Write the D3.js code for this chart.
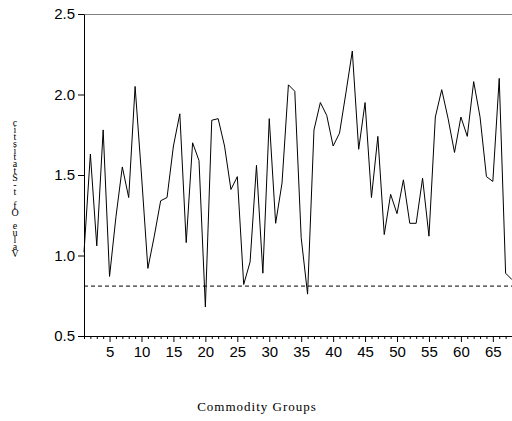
<!DOCTYPE html>
<html>
  <head>
    <script src="https://d3js.org/d3.v7.min.js"></script>
    <style>
      body { margin: 0; background: white; }
      svg { display: block; }
    </style>
  </head>
  <body>
    <script>
      const groups = d3.range(1, 69);
      const values = [1.02, 1.63, 1.06, 1.78, 0.87, 1.24, 1.55, 1.36, 2.05, 1.50,
                      0.92, 1.12, 1.34, 1.36, 1.68, 1.88, 1.08, 1.70, 1.59, 0.68,
                      1.84, 1.85, 1.68, 1.41, 1.49, 0.82, 0.96, 1.56, 0.89, 1.85,
                      1.20, 1.45, 2.06, 2.02, 1.11, 0.76, 1.78, 1.95, 1.87, 1.68,
                      1.76, 2.01, 2.27, 1.66, 1.95, 1.36, 1.74, 1.13, 1.38, 1.26,
                      1.47, 1.20, 1.20, 1.48, 1.12, 1.86, 2.03, 1.85, 1.64, 1.86,
                      1.74, 2.08, 1.86, 1.49, 1.46, 2.10, 0.89, 0.85];
      const critical = 0.81;
      const yTicks = [0.5, 1.0, 1.5, 2.0, 2.5];
      const xTicks = [5, 10, 15, 20, 25, 30, 35, 40, 45, 50, 55, 60, 65];
      const yTitle = 'Value Of t-Statistic';
      const xTitle = 'Commodity Groups';

      const w = 512, h = 421;
      const m = { left: 84, right: 512, top: 14, bottom: 336 };

      const svg = d3.select('body').append('svg')
        .attr('width', w)
        .attr('height', h);

      const x = d3.scaleLinear().domain([1, 68]).range([m.left, m.right]);
      const y = d3.scaleLinear().domain([0.5, 2.5]).range([m.bottom, m.top]);

      // frame top line
      svg.append('line')
        .attr('x1', m.left).attr('x2', m.right)
        .attr('y1', m.top + 0.5).attr('y2', m.top + 0.5)
        .attr('stroke', '#808080');

      // minor x ticks
      const xAxisMinor = d3.axisBottom(x)
        .tickValues(groups.filter(d => d % 5 !== 0))
        .tickSize(3)
        .tickFormat('');
      svg.append('g')
        .attr('transform', `translate(0,${m.bottom})`)
        .call(xAxisMinor)
        .call(g => g.select('.domain').remove());

      const xAxis = d3.axisBottom(x)
        .tickValues(xTicks)
        .tickSize(6)
        .tickPadding(4)
        .tickSizeOuter(0);
      svg.append('g')
        .attr('transform', `translate(0,${m.bottom})`)
        .call(xAxis)
        .call(g => g.selectAll('text')
          .style('font-family', 'Liberation Sans, Arial, sans-serif')
          .style('font-size', '15px')
          .attr('fill', 'black'));

      const yAxis = d3.axisLeft(y)
        .tickValues(yTicks)
        .tickFormat(d3.format('.1f'))
        .tickSize(6)
        .tickPadding(3)
        .tickSizeOuter(0);
      svg.append('g')
        .attr('transform', `translate(${m.left},0)`)
        .call(yAxis)
        .call(g => g.selectAll('text')
          .style('font-family', 'Liberation Sans, Arial, sans-serif')
          .style('font-size', '15px')
          .attr('fill', 'black'));

      // critical value dashed line
      svg.append('line')
        .attr('x1', x(1)).attr('x2', x(68))
        .attr('y1', y(critical)).attr('y2', y(critical))
        .attr('stroke', 'black')
        .attr('stroke-dasharray', '4,3');

      const line = d3.line()
        .x((d, i) => x(groups[i]))
        .y(d => y(d));

      svg.append('path')
        .datum(values)
        .attr('d', line)
        .attr('fill', 'none')
        .attr('stroke', 'black')
        .attr('stroke-width', 1);

      // y title, letters stacked upright going upward
      const chars = yTitle.split('');
      svg.append('g')
        .selectAll('text')
        .data(chars)
        .enter()
        .append('text')
        .attr('x', 15)
        .attr('y', (d, i) => 257 - i * 6.9)
        .attr('text-anchor', 'middle')
        .style('font-family', 'Liberation Serif, Times New Roman, serif')
        .style('font-size', '10px')
        .text(d => d);

      svg.append('text')
        .attr('x', 257)
        .attr('y', 411)
        .attr('text-anchor', 'middle')
        .style('font-family', 'Liberation Serif, Times New Roman, serif')
        .style('font-size', '13px')
        .style('letter-spacing', '1px')
        .text(xTitle);
    </script>
  </body>
</html>
